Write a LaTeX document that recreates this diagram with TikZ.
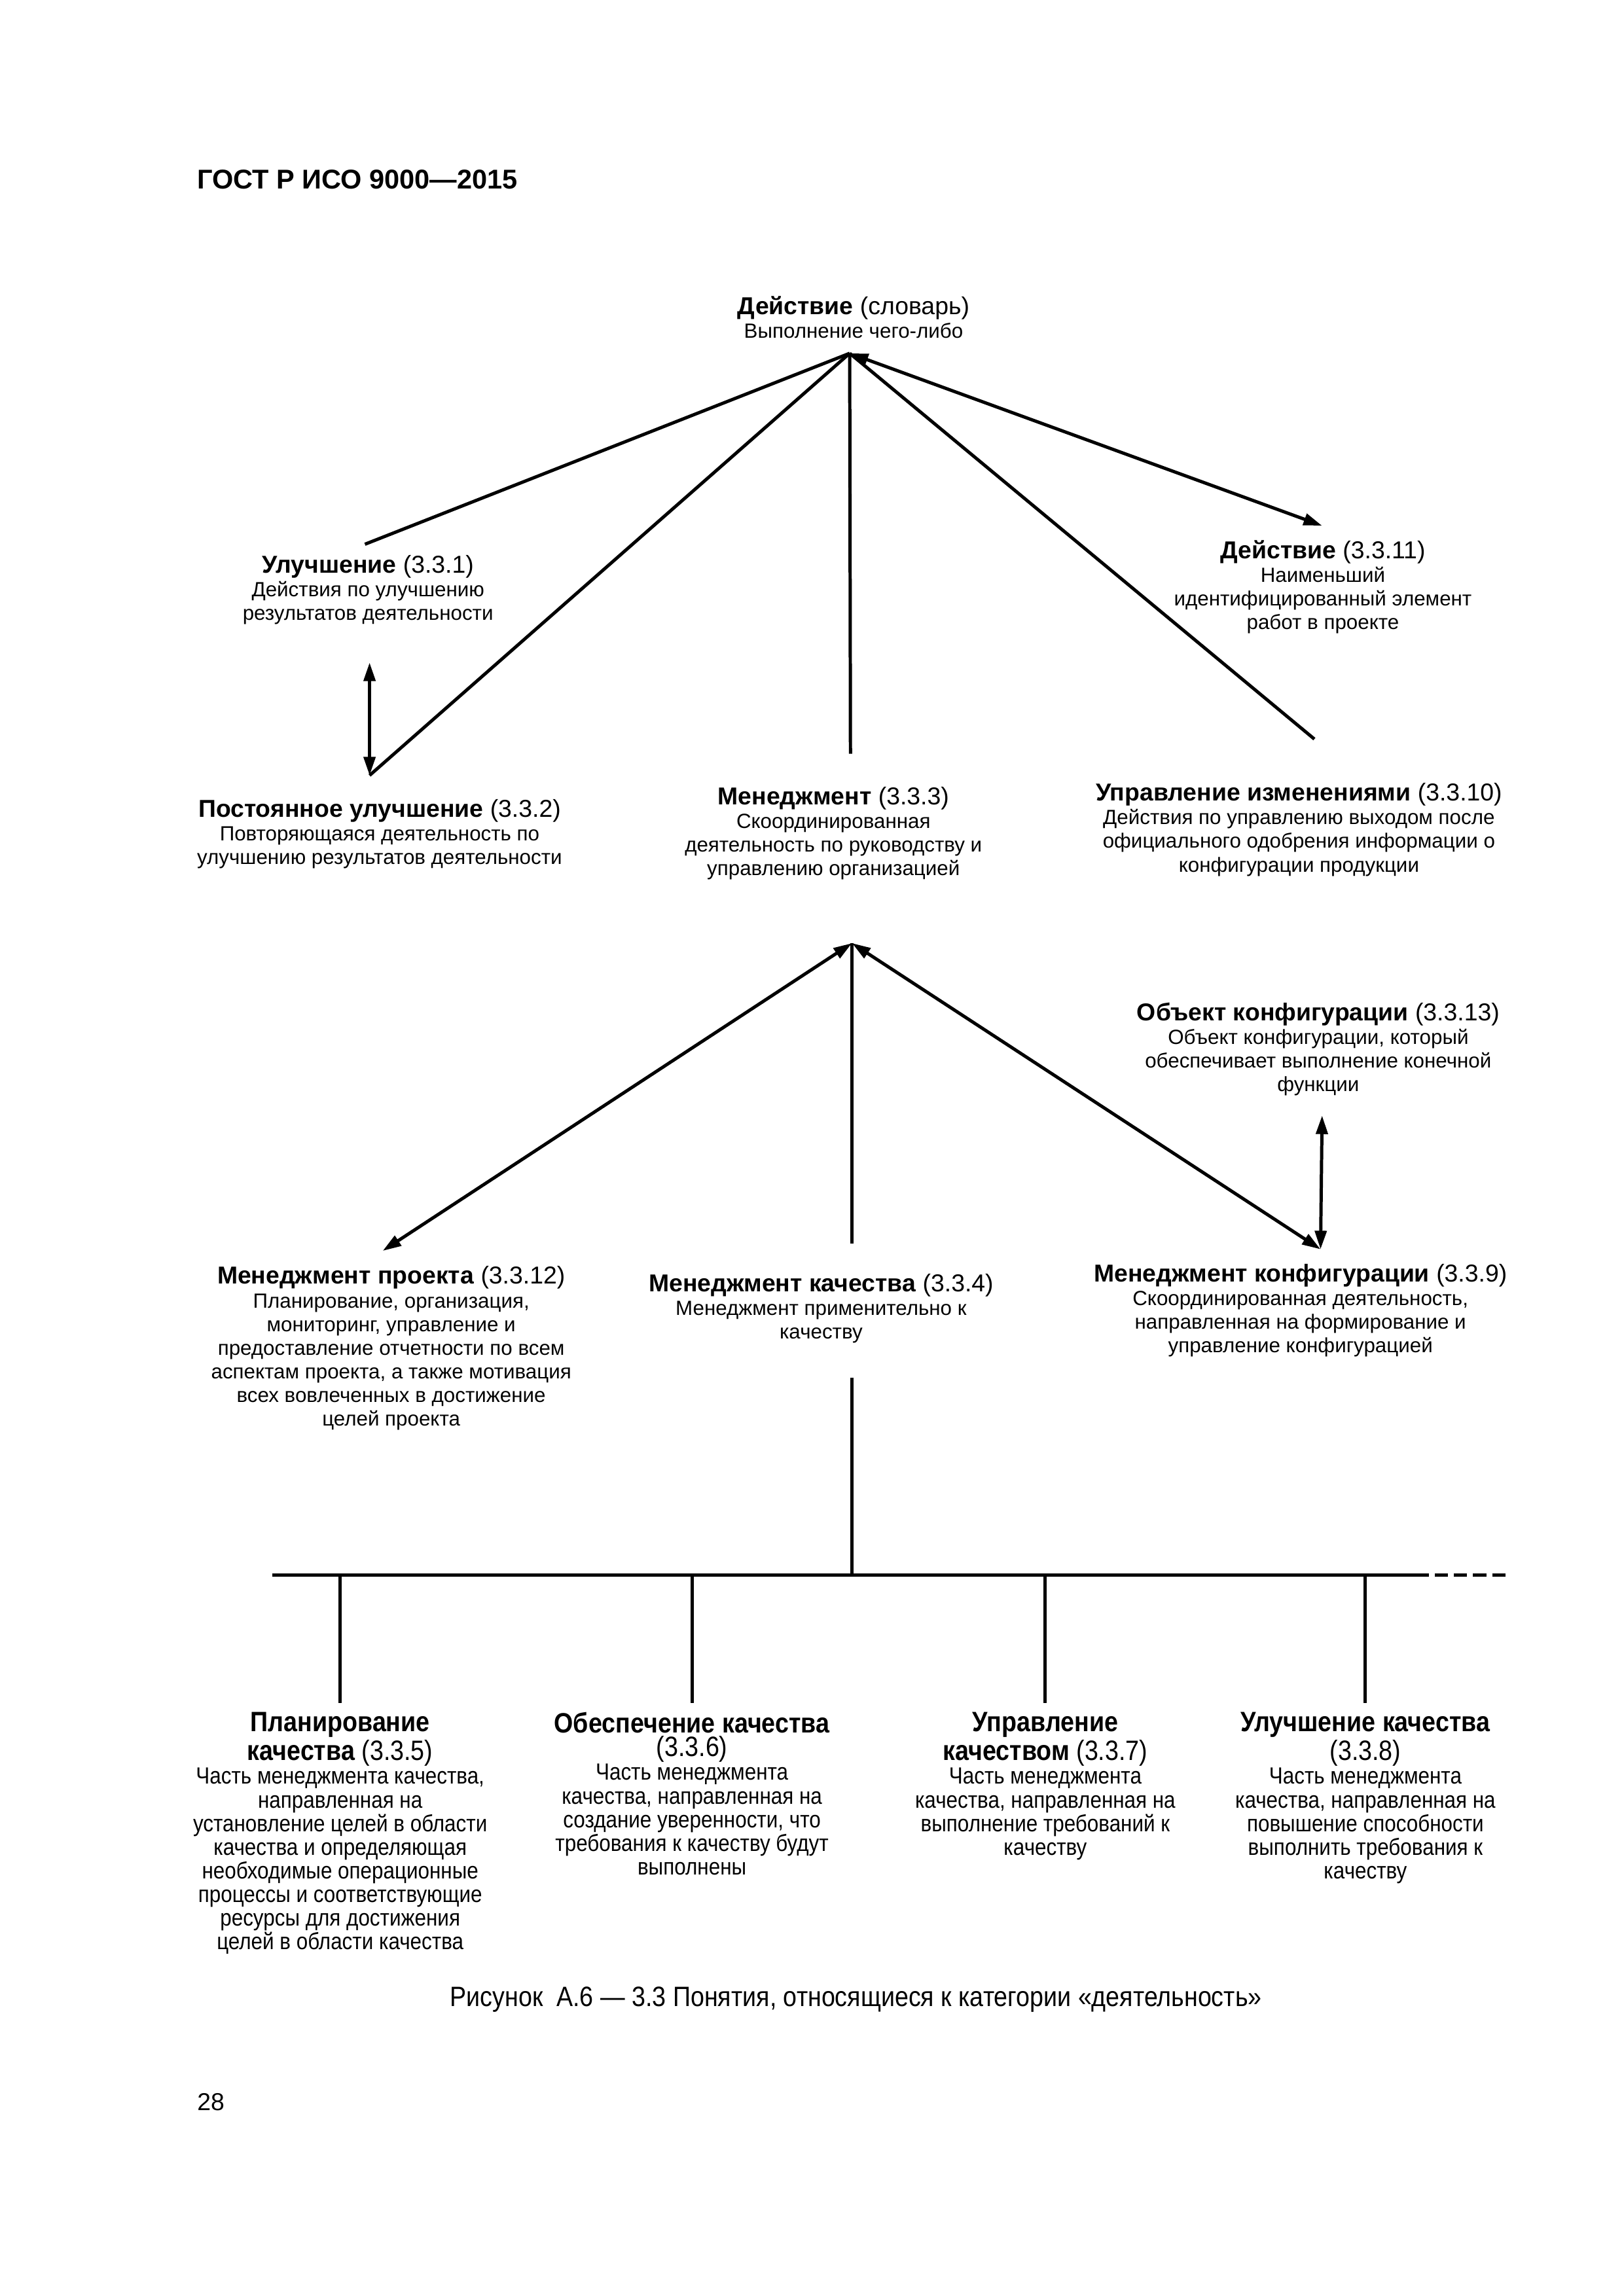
\documentclass[tikz,border=0pt]{standalone}
\usepackage{fontspec}
\setmainfont{Liberation Sans}
\newfontfamily\uzkij{Liberation Sans}[FakeStretch=0.88]
\usetikzlibrary{arrows.meta}
\newcommand{\zg}{\fontsize{9}{9.2}\selectfont}
\newcommand{\krup}{\fontsize{10.3}{9.6}\selectfont}

\begin{document}
\begin{tikzpicture}[scale=1, line width=1.2pt, >={Triangle[length=2.4mm,width=1.5mm]},
		ponyatie/.style={align=center, inner sep=0pt, anchor=north, font=\fontsize{7.55}{8.7}\selectfont},
		niz/.style={align=center, inner sep=0pt, anchor=north, font=\uzkij\fontsize{8.6}{8.7}\selectfont}]
			\useasboundingbox (0,0) rectangle (21,-29.7);
			\node[anchor=west, inner sep=0pt, font=\bfseries\fontsize{10}{12}\selectfont] (gost) at (2.53,-2.32) {ГОСТ Р ИСО 9000—2015};
			% verkhnii uroven
			\node[ponyatie] (deistvie) at (11.04,-3.81) {{\zg\textbf{Действие} (словарь)}\\Выполнение чего-либо};
			\node[ponyatie] (uluch) at (4.76,-7.16) {{\zg\textbf{Улучшение} (3.3.1)}\\Действия по улучшению\\результатов деятельности};
			\node[ponyatie] (deistv11) at (17.11,-6.97) {{\zg\textbf{Действие} (3.3.11)}\\Наименьший\\идентифицированный элемент\\работ в проекте};
			\node[ponyatie] (post) at (4.91,-10.32) {{\zg\textbf{Постоянное улучшение} (3.3.2)}\\Повторяющаяся деятельность по\\улучшению результатов деятельности};
			\node[ponyatie] (menedzh) at (10.78,-10.16) {{\zg\textbf{Менеджмент} (3.3.3)}\\Скоординированная\\деятельность по руководству и\\управлению организацией};
			\node[ponyatie] (izmen) at (16.80,-10.11) {{\zg\textbf{Управление изменениями} (3.3.10)}\\Действия по управлению выходом после\\официального одобрения информации о\\конфигурации продукции};
			\node[ponyatie] (obekt) at (17.05,-12.95) {{\zg\textbf{Объект конфигурации} (3.3.13)}\\Объект конфигурации, который\\обеспечивает выполнение конечной\\функции};
			\node[ponyatie] (proekt) at (5.06,-16.36) {{\zg\textbf{Менеджмент проекта} (3.3.12)}\\Планирование, организация,\\мониторинг, управление и\\предоставление отчетности по всем\\аспектам проекта, а также мотивация\\всех вовлеченных в достижение\\целей проекта};
			\node[ponyatie] (kach) at (10.62,-16.46) {{\zg\textbf{Менеджмент качества} (3.3.4)}\\Менеджмент применительно к\\качеству};
			\node[ponyatie] (konfig) at (16.82,-16.33) {{\zg\textbf{Менеджмент конфигурации} (3.3.9)}\\Скоординированная деятельность,\\направленная на формирование и\\управление конфигурацией};
			% nizhnii uroven
			\node[niz] (plan) at (4.40,-22.13) {{\krup\textbf{Планирование}}\\{\krup\textbf{качества} (3.3.5)}\\Часть менеджмента качества,\\направленная на\\установление целей в области\\качества и определяющая\\необходимые операционные\\процессы и соответствующие\\ресурсы для достижения\\целей в области качества};
			\node[niz] (obesp) at (8.95,-22.13) {{\krup\textbf{Обеспечение качества}}\\{\krup(3.3.6)}\\Часть менеджмента\\качества, направленная на\\создание уверенности, что\\требования к качеству будут\\выполнены};
			\node[niz] (upr) at (13.52,-22.13) {{\krup\textbf{Управление}}\\{\krup\textbf{качеством} (3.3.7)}\\Часть менеджмента\\качества, направленная на\\выполнение требований к\\качеству};
			\node[niz] (ulkach) at (17.66,-22.13) {{\krup\textbf{Улучшение качества}}\\{\krup(3.3.8)}\\Часть менеджмента\\качества, направленная на\\повышение способности\\выполнить требования к\\качеству};
			\node[anchor=base, inner sep=0pt, font=\uzkij\fontsize{10.3}{12}\selectfont] (podpis) at (11.07,-25.95) {Рисунок\ \ А.6 — 3.3 Понятия, относящиеся к~категории «деятельность»};
			\node[anchor=west, inner sep=0pt, font=\fontsize{9}{11}\selectfont] (nomer) at (2.53,-27.19) {28};
			% tochki
			\coordinate (v1) at (10.99,-4.57);
			\coordinate (v2) at (11.02,-12.20);
			\coordinate (uluch-k) at (4.72,-7.04);
			\coordinate (uluch-n) at (4.78,-8.57);
			\coordinate (post-k) at (4.78,-10.03);
			\coordinate (menedzh-k) at (11.00,-9.75);
			\coordinate (deistv11-k) at (17.10,-6.80);
			\coordinate (izmen-k) at (17.00,-9.56);
			\coordinate (obekt-n) at (17.10,-14.43);
			\coordinate (proekt-k) at (4.95,-16.18);
			\coordinate (kach-k) at (11.02,-16.09);
			\coordinate (konfig-k) at (17.08,-16.16);
			\coordinate (kach-n) at (11.02,-17.82);
			\coordinate (shina) at (11.02,-20.37);
			\coordinate (shina-l) at (3.52,-20.37);
			\coordinate (shina-p) at (18.485,-20.37);
			\coordinate (shina-t) at (19.47,-20.37);
			% linii
			\draw (v1) -- (uluch-k);
			\draw (v1) -- (post-k);
			\draw (v1) -- (menedzh-k);
			\draw[<->] (v1) -- (deistv11-k);
			\draw (v1) -- (izmen-k);
			\draw[<->] (uluch-n) -- (post-k);
			\draw[<->] (v2) -- (proekt-k);
			\draw (v2) -- (kach-k);
			\draw[<->] (v2) -- (konfig-k);
			\draw[<->] (obekt-n) -- (konfig-k);
			\draw (kach-n) -- (shina);
			\draw (shina-l) -- (shina-p);
			\draw[dash pattern=on 0.17cm off 0.076cm, dash phase=0.17cm] (shina-p) -- (shina-t);
			\foreach \n in {plan,obesp,upr,ulkach}
				\draw (\n.north |- shina) -- ([yshift=1mm]\n.north);
		\end{tikzpicture}
\end{document}
